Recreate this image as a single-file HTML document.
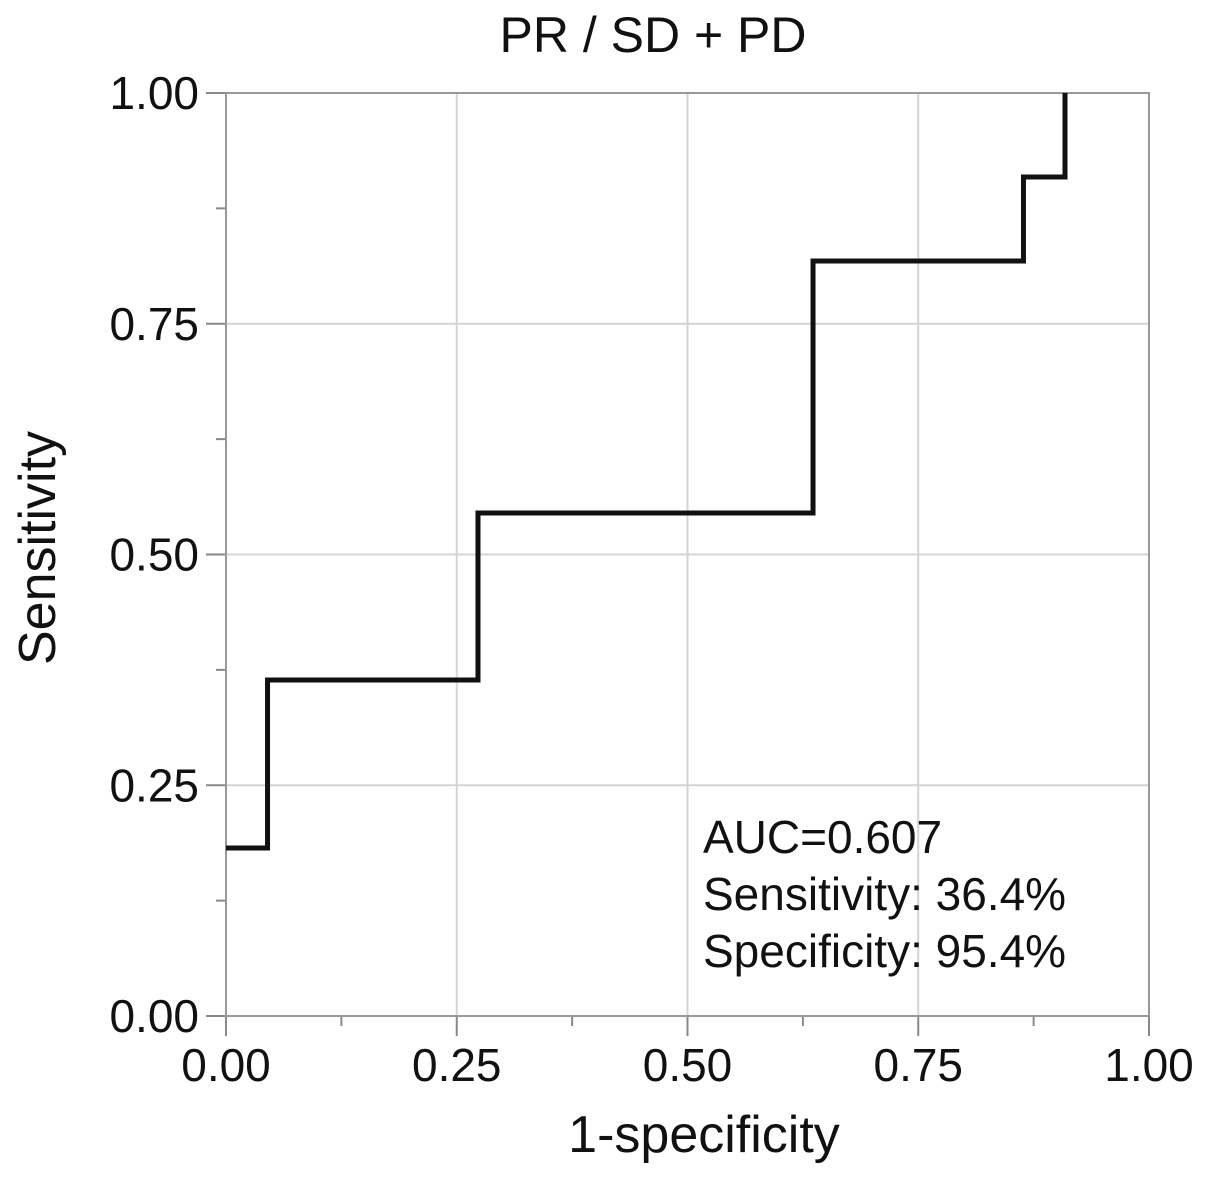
<!DOCTYPE html>
<html><head><meta charset="utf-8"><style>
body{margin:0;background:#fff;}
svg{display:block;font-family:"Liberation Sans",Arial,sans-serif;}
</style></head><body>
<svg id="chart" width="1205" height="1198" viewBox="0 0 1205 1198">
<text x="653" y="52" font-size="50" text-anchor="middle" fill="#111">PR / SD + PD</text>
<g id="grid"></g>
<g id="axes"></g>
<path id="roc" fill="none" stroke="#111" stroke-width="5" stroke-linejoin="miter"/>
<text x="704" y="1152" font-size="52" text-anchor="middle" fill="#111">1-specificity</text>
<text transform="translate(55,548) rotate(-90)" font-size="52" text-anchor="middle" fill="#111">Sensitivity</text>
<g font-size="46" fill="#111">
<text x="703" y="853">AUC=0.607</text>
<text x="703" y="910">Sensitivity: 36.4%</text>
<text x="703" y="967">Specificity: 95.4%</text>
</g>
</svg>
<script>
const fpr = [0, 0.045, 0.045, 0.273, 0.273, 0.636, 0.636, 0.864, 0.864, 0.909, 0.909];
const tpr = [0.182, 0.182, 0.364, 0.364, 0.545, 0.545, 0.818, 0.818, 0.909, 0.909, 1.0];
const ticks = [0, 0.25, 0.5, 0.75, 1];
const tickLabels = ["0.00", "0.25", "0.50", "0.75", "1.00"];
const minorTicks = [0.125, 0.375, 0.625, 0.875];
const X0=226, X1=1149, Y0=1016, Y1=93;
const sx = v => X0 + v*(X1-X0);
const sy = v => Y0 - v*(Y0-Y1);
const NS="http://www.w3.org/2000/svg";
const grid=document.getElementById('grid'), axes=document.getElementById('axes');
function mk(tag, attrs, parent){const e=document.createElementNS(NS,tag);for(const k in attrs)e.setAttribute(k,attrs[k]);parent.appendChild(e);return e;}
ticks.forEach((t,i)=>{
  const gv=mk('line',{x1:sx(t),x2:sx(t),y1:Y1,y2:Y0,stroke:'#d4d4d4','stroke-width':2},grid);
  
  
  const gh=mk('line',{x1:X0,x2:X1,y1:sy(t),y2:sy(t),stroke:'#d4d4d4','stroke-width':2},grid);
  
  
  mk('line',{x1:sx(t),x2:sx(t),y1:Y0,y2:Y0+20,stroke:'#888','stroke-width':2},axes);
  mk('line',{x1:X0-20,x2:X0,y1:sy(t),y2:sy(t),stroke:'#888','stroke-width':2},axes);
  const xl=mk('text',{x:sx(t),y:1081,'font-size':46,'text-anchor':'middle',fill:'#111'},axes);
  xl.textContent=tickLabels[i];
  
  
  const yl=mk('text',{x:199,y:sy(t)+16,'font-size':46,'text-anchor':'end',fill:'#111'},axes);
  yl.textContent=tickLabels[i];
  
  
});
minorTicks.forEach(t=>{
  mk('line',{x1:sx(t),x2:sx(t),y1:Y0,y2:Y0+10,stroke:'#888','stroke-width':2},axes);
  mk('line',{x1:X0-10,x2:X0,y1:sy(t),y2:sy(t),stroke:'#888','stroke-width':2},axes);
});
const frame=mk('rect',{x:X0,y:Y1,width:X1-X0,height:Y0-Y1,fill:'none',stroke:'#999','stroke-width':2},axes);


document.getElementById('roc').setAttribute('d', fpr.map((f,i)=>(i?'L':'M')+sx(f)+','+sy(tpr[i])).join(' '));
</script>
</body></html>
